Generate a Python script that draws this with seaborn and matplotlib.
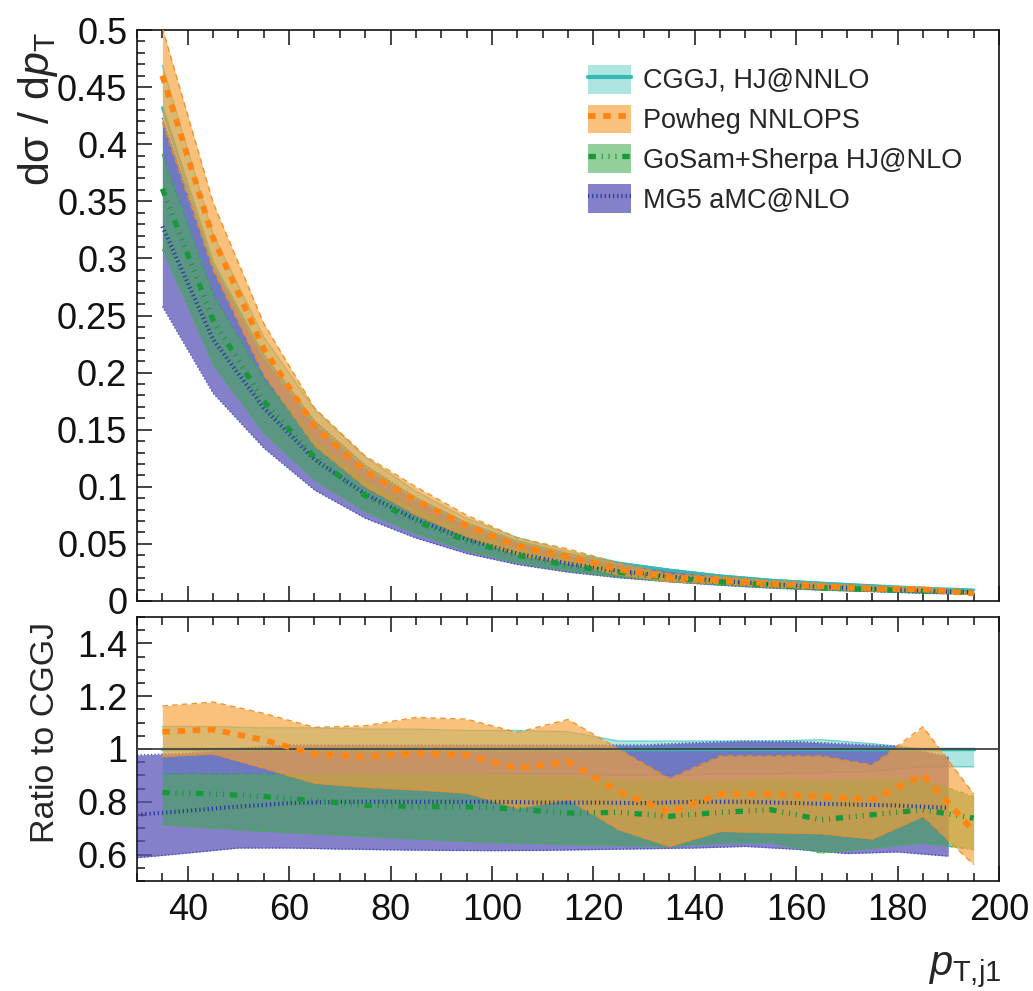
import numpy as np
import pandas as pd
import matplotlib
matplotlib.use("Agg")
import matplotlib.pyplot as plt
import seaborn as sns
from matplotlib.patches import Patch
from matplotlib.lines import Line2D
from matplotlib.ticker import MultipleLocator, FuncFormatter

# ---------------- data ----------------
pt = [35, 45, 55, 65, 75, 85, 95, 105, 115, 125, 135, 145, 155, 165, 175, 185, 195]
pt_mg5_ratio = [30, 40, 50, 60, 70, 80, 90, 100, 110, 120, 130, 140, 150, 160, 170, 180, 190]

# upper panel: d sigma / d pT
cggj = [0.432, 0.296, 0.214, 0.156, 0.117, 0.0893, 0.0676, 0.052, 0.041, 0.033, 0.027, 0.022, 0.0183, 0.0157, 0.0135, 0.0113, 0.0098]
cggj_hi = [0.469, 0.321, 0.231, 0.168, 0.126, 0.0960, 0.0723, 0.0556, 0.0437, 0.0340, 0.0278, 0.0227, 0.0188, 0.0162, 0.0138, 0.0113, 0.0098]
cggj_lo = [0.391, 0.268, 0.194, 0.141, 0.106, 0.0808, 0.0612, 0.0471, 0.0371, 0.0297, 0.0243, 0.0199, 0.0166, 0.0143, 0.0124, 0.0105, 0.0091]

powheg = [0.460, 0.318, 0.221, 0.153, 0.1136, 0.0879, 0.066, 0.0482, 0.039, 0.0277, 0.0205, 0.0183, 0.0152, 0.0129, 0.0109, 0.0102, 0.0067]
powheg_hi = [0.502, 0.349, 0.243, 0.169, 0.127, 0.100, 0.0752, 0.0553, 0.0456, 0.033, 0.024, 0.0214, 0.0178, 0.0153, 0.0127, 0.0122, 0.0081]
powheg_lo = [0.419, 0.290, 0.198, 0.136, 0.100, 0.0755, 0.0563, 0.0404, 0.0331, 0.0229, 0.0170, 0.0151, 0.0125, 0.0107, 0.0089, 0.0084, 0.0055]

gosam = [0.361, 0.246, 0.175, 0.126, 0.0921, 0.0698, 0.0528, 0.0401, 0.0310, 0.0251, 0.0201, 0.0167, 0.0141, 0.0115, 0.0101, 0.0087, 0.0072]
gosam_hi = [0.391, 0.268, 0.194, 0.141, 0.106, 0.0808, 0.0612, 0.0468, 0.0367, 0.0292, 0.0238, 0.0194, 0.0162, 0.0138, 0.0119, 0.0100, 0.0080]
gosam_lo = [0.308, 0.207, 0.147, 0.106, 0.0783, 0.0588, 0.0439, 0.0335, 0.0262, 0.0210, 0.0170, 0.0142, 0.0118, 0.0095, 0.0084, 0.0073, 0.0061]

mg5 = [0.328, 0.229, 0.169, 0.124, 0.0936, 0.0714, 0.0541, 0.0416, 0.0327, 0.0263, 0.0215, 0.0176, 0.0146, 0.0124, 0.0106, 0.0088, 0.0076]
mg5_hi = [0.423, 0.293, 0.216, 0.158, 0.119, 0.0906, 0.0686, 0.0528, 0.0416, 0.0335, 0.0277, 0.0226, 0.0188, 0.0161, 0.0137, 0.0112, 0.0095]
mg5_lo = [0.258, 0.182, 0.134, 0.0972, 0.0725, 0.0551, 0.0416, 0.0320, 0.0253, 0.0204, 0.0168, 0.0138, 0.0113, 0.0096, 0.0082, 0.0068, 0.0058]

# lower panel: ratio to CGGJ
r_cggj = [1.0, 1.0, 1.0, 1.0, 1.0, 1.0, 1.0, 1.0, 1.0, 1.0, 1.0, 1.0, 1.0, 1.0, 1.0, 1.0, 1.0]
r_cggj_hi = [1.085, 1.085, 1.08, 1.08, 1.075, 1.075, 1.07, 1.07, 1.065, 1.03, 1.03, 1.03, 1.03, 1.035, 1.02, 1.0, 1.0]
r_cggj_lo = [0.905, 0.905, 0.905, 0.905, 0.905, 0.905, 0.905, 0.905, 0.905, 0.90, 0.90, 0.905, 0.905, 0.91, 0.915, 0.933, 0.933]

r_powheg = [1.065, 1.074, 1.034, 0.981, 0.971, 0.984, 0.977, 0.927, 0.952, 0.839, 0.76, 0.83, 0.83, 0.82, 0.808, 0.902, 0.688]
r_powheg_hi = [1.163, 1.178, 1.135, 1.082, 1.088, 1.12, 1.113, 1.063, 1.112, 1.0, 0.889, 0.974, 0.974, 0.974, 0.94, 1.084, 0.83]
r_powheg_lo = [0.971, 0.981, 0.927, 0.87, 0.855, 0.845, 0.833, 0.776, 0.808, 0.694, 0.631, 0.688, 0.683, 0.679, 0.659, 0.745, 0.562]

r_gosam = [0.835, 0.83, 0.82, 0.805, 0.787, 0.782, 0.781, 0.772, 0.757, 0.76, 0.745, 0.76, 0.77, 0.732, 0.751, 0.77, 0.738]
r_gosam_hi = [0.905, 0.905, 0.905, 0.905, 0.905, 0.905, 0.905, 0.90, 0.895, 0.885, 0.88, 0.88, 0.885, 0.88, 0.885, 0.885, 0.82]
r_gosam_lo = [0.713, 0.70, 0.688, 0.679, 0.669, 0.659, 0.65, 0.644, 0.638, 0.635, 0.631, 0.644, 0.646, 0.606, 0.625, 0.644, 0.619]

r_mg5 = [0.751, 0.766, 0.782, 0.795, 0.80, 0.80, 0.80, 0.80, 0.797, 0.797, 0.795, 0.80, 0.80, 0.795, 0.79, 0.786, 0.777]
r_mg5_hi = [0.977, 0.984, 1.003, 1.015, 1.015, 1.015, 1.015, 1.015, 1.015, 1.015, 1.015, 1.024, 1.03, 1.028, 1.019, 1.011, 0.971]
r_mg5_lo = [0.588, 0.606, 0.625, 0.625, 0.621, 0.618, 0.616, 0.615, 0.616, 0.619, 0.622, 0.625, 0.631, 0.62, 0.604, 0.61, 0.594]

labels = ["CGGJ, HJ@NNLO", "Powheg NNLOPS", "GoSam+Sherpa HJ@NLO", "MG5 aMC@NLO"]

# ---------------- styles ----------------
styles = {
    "cggj":   dict(fill="#5ccfc4", alpha=0.5, line="#35b9b3", edge="#5ccfc4", lw=2.0, dashes=None, edash=None),
    "powheg": dict(fill="#f7a035", alpha=0.65, line="#ff8512", edge="#f08a20", lw=4.2, dashes=(1.3, 1.3), edash=(4, 3)),
    "gosam":  dict(fill="#3aa84a", alpha=0.55, line="#17993a", edge="#45b055", lw=3.8,
                   dashes=(1.4, 1.1, 0.2, 1.1, 0.2, 1.1, 0.2, 1.1), edash=(3, 2, 1, 2)),
    "mg5":    dict(fill="#5b55b8", alpha=0.75, line="#2b3aa0", edge="#3848b8", lw=3.0, dashes=(0.3, 0.7), edash=(1, 1.5)),
}

sns.set_theme(style="ticks")
plt.rcParams["font.family"] = ["Liberation Sans", "DejaVu Sans"]
plt.rcParams["mathtext.fontset"] = "custom"
plt.rcParams["mathtext.rm"] = "Liberation Sans"
plt.rcParams["mathtext.it"] = "Liberation Sans:italic"
plt.rcParams["mathtext.bf"] = "Liberation Sans:bold"

W, H = 1033, 991
fig = plt.figure(figsize=(W / 100, H / 100), dpi=100)
L, R = 137 / W, 999 / W
ax1 = fig.add_axes([L, 1 - 601 / H, R - L, (601 - 30) / H])
ax2 = fig.add_axes([L, 1 - 881 / H, R - L, (881 - 617) / H])


def band(ax, x, lo, hi, st, z):
    ax.fill_between(x, lo, hi, color=st["fill"], alpha=st["alpha"], lw=0, zorder=z)
    for e in (lo, hi):
        ln, = ax.plot(x, e, color=st["edge"], lw=1.0, zorder=z + 0.1, alpha=0.9)
        if st["edash"]:
            ln.set_dashes(st["edash"])


def central(ax, x, y, st, z, lw=None):
    df = pd.DataFrame({"pt": x, "v": y})
    sns.lineplot(data=df, x="pt", y="v", ax=ax, color=st["line"], linewidth=lw or st["lw"],
                 estimator=None, sort=False, legend=False, zorder=z)
    ln = ax.get_lines()[-1]
    if st["dashes"]:
        ln.set_dashes(st["dashes"])
        ln.set_dash_capstyle("butt")


# upper panel
band(ax1, pt, cggj_lo, cggj_hi, styles["cggj"], 1)
band(ax1, pt, mg5_lo, mg5_hi, styles["mg5"], 2)
central(ax1, pt, cggj, styles["cggj"], 2.5)
band(ax1, pt, gosam_lo, gosam_hi, styles["gosam"], 3)
band(ax1, pt, powheg_lo, powheg_hi, styles["powheg"], 4)
central(ax1, pt, mg5, styles["mg5"], 6)
central(ax1, pt, gosam, styles["gosam"], 7)
central(ax1, pt, powheg, styles["powheg"], 9)

# ratio panel
band(ax2, pt, r_cggj_lo, r_cggj_hi, styles["cggj"], 1)
band(ax2, pt_mg5_ratio, r_mg5_lo, r_mg5_hi, styles["mg5"], 2)
central(ax2, pt, r_cggj, styles["cggj"], 2.5, lw=2.5)
band(ax2, pt, r_gosam_lo, r_gosam_hi, styles["gosam"], 3)
band(ax2, pt, r_powheg_lo, r_powheg_hi, styles["powheg"], 4)
central(ax2, pt_mg5_ratio, r_mg5, styles["mg5"], 6)
central(ax2, pt, r_gosam, styles["gosam"], 7)
central(ax2, pt, r_powheg, styles["powheg"], 9)
ax2.axhline(1.0, color="#444444", lw=1.3, zorder=8)

# axes formatting
fmt = FuncFormatter(lambda v, p: "%g" % round(v, 3))
for ax in (ax1, ax2):
    ax.set_xlim(30, 200)
    ax.xaxis.set_major_locator(MultipleLocator(20))
    ax.xaxis.set_minor_locator(MultipleLocator(5))
    ax.tick_params(which="both", direction="in", top=True, right=False, width=1.1, colors="#111111",
                   labelsize=26, pad=7)
    ax.tick_params(which="major", length=11)
    ax.tick_params(which="minor", length=5.5)
    ax.set_xlabel("")
    ax.set_ylabel("")
    ax.yaxis.set_major_formatter(fmt)
    for s in ax.spines.values():
        s.set_linewidth(1.2)
        s.set_color("#111111")
        s.set_visible(True)

ax1.set_ylim(0, 0.5)
ax1.yaxis.set_major_locator(MultipleLocator(0.05))
ax1.yaxis.set_minor_locator(MultipleLocator(0.01))
ax1.tick_params(axis="x", labelbottom=False)

ax2.set_ylim(0.5, 1.5)
ax2.yaxis.set_major_locator(MultipleLocator(0.2))
ax2.yaxis.set_minor_locator(MultipleLocator(0.05))
ax2.xaxis.set_major_formatter(fmt)
ax2.tick_params(axis="x", pad=9)

# axis titles
fig.text(38 / W, 1 - 32 / H, "dσ / d$p_{\\mathrm{T}}$", rotation=90, ha="center", va="top", fontsize=31)
fig.text(46 / W, 1 - 622 / H, "Ratio to CGGJ", rotation=90, ha="center", va="top", fontsize=24.5)
fig.text(1001 / W, 1 - 990 / H, "$p_{\\mathrm{T{,}j1}}$", ha="right", va="bottom", fontsize=30)

# legend
handles = []
for key in ["cggj", "powheg", "gosam", "mg5"]:
    st = styles[key]
    p = Patch(facecolor=st["fill"], alpha=st["alpha"], edgecolor="none")
    l = Line2D([0, 1], [0, 0], color=st["line"], lw=(3.0 if key == "cggj" else st["lw"]))
    if st["dashes"]:
        l.set_dashes(st["dashes"])
        l.set_dash_capstyle("butt")
    handles.append((p, l))
ax1.legend(handles, labels, loc="upper left", bbox_to_anchor=(588 / W, 1 - 65 / H),
           bbox_transform=fig.transFigure, frameon=False, fontsize=19.5, borderpad=0,
           borderaxespad=0, handlelength=1.6, handleheight=1.25, labelspacing=0.38,
           handletextpad=0.42)

fig.savefig("out.png", dpi=100)
